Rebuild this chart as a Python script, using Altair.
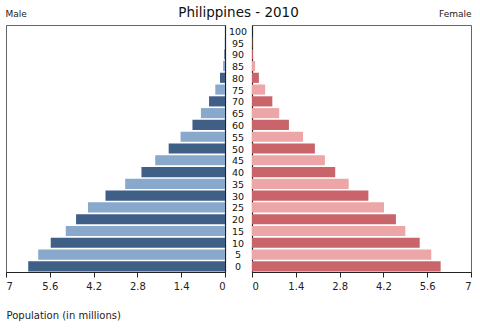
import altair as alt
import pandas as pd

ages = [0, 5, 10, 15, 20, 25, 30, 35, 40, 45, 50, 55, 60, 65, 70, 75, 80, 85, 90, 95, 100]
male = [6.29, 5.97, 5.57, 5.09, 4.76, 4.38, 3.82, 3.19, 2.67, 2.23, 1.80, 1.42, 1.04, 0.77, 0.51, 0.31, 0.16, 0.06, 0.02, 0.005, 0.0]
female = [6.03, 5.73, 5.36, 4.90, 4.60, 4.22, 3.72, 3.09, 2.66, 2.33, 2.01, 1.63, 1.18, 0.87, 0.65, 0.42, 0.22, 0.10, 0.03, 0.008, 0.0]
ticks = [0, 1.4, 2.8, 4.2, 5.6, 7]

df = pd.DataFrame({"age": ages, "male": male, "female": female})
df["label"] = df["age"].astype(str)

FONT = "DejaVu Sans"
H = 247
W = 219
yscale = alt.Scale(paddingInner=0.14, paddingOuter=0.05)
ysort = "descending"
even = "datum.age % 10 == 0"
lab = "'' + datum.value"

base = alt.Chart(df)

left = base.mark_bar().encode(
    y=alt.Y("age:O", sort=ysort, scale=yscale,
            axis=alt.Axis(orient="right", labels=False, ticks=False, title=None,
                          domainColor="#222", domainWidth=1.2, grid=False)),
    x=alt.X("male:Q", scale=alt.Scale(domain=[0, 7], reverse=True, nice=False),
            axis=alt.Axis(values=ticks, labelExpr=lab, grid=False,
                          title="Population (in millions)", titleX=0, titleY=38,
                          titleAlign="left", titleAnchor="start",
                          titleFontWeight="normal", titleFontSize=10, titleFont=FONT,
                          titleColor="#222", titleBaseline="top",
                          labelFontSize=10, labelFont=FONT, labelColor="#222",
                          tickSize=5, tickColor="#222", domainColor="#222",
                          labelPadding=4)),
    color=alt.condition(even, alt.value("#3f5f86"), alt.value("#88a8cc")),
).properties(
    width=W, height=H,
    title=alt.Title("Male", anchor="start", fontSize=9, fontWeight="normal",
                    font=FONT, color="#222", offset=6),
)

center = base.mark_text(fontSize=9.5, font=FONT, color="#111", align="center",
                        baseline="middle", dy=1).encode(
    y=alt.Y("age:O", sort=ysort, scale=yscale, axis=None),
    x=alt.value(13),
    text="label:N",
).properties(
    width=27, height=H,
    view=alt.ViewBackground(stroke="transparent", strokeOpacity=0),
    title=alt.Title("Philippines - 2010", anchor="middle", fontSize=13.5,
                    fontWeight="normal", font=FONT, color="#111", offset=6),
)

right = base.mark_bar().encode(
    y=alt.Y("age:O", sort=ysort, scale=yscale,
            axis=alt.Axis(orient="left", labels=False, ticks=False, title=None,
                          domainColor="#222", domainWidth=1.2, grid=False)),
    x=alt.X("female:Q", scale=alt.Scale(domain=[0, 7], nice=False),
            axis=alt.Axis(values=ticks, labelExpr=lab, grid=False, title=None,
                          labelFontSize=10, labelFont=FONT, labelColor="#222",
                          tickSize=5, tickColor="#222", domainColor="#222",
                          labelPadding=4)),
    color=alt.condition(even, alt.value("#c8646a"), alt.value("#eca6a8")),
).properties(
    width=W, height=H,
    title=alt.Title("Female", anchor="end", fontSize=9, fontWeight="normal",
                    font=FONT, color="#222", offset=6),
)

chart = alt.hconcat(left, center, right, spacing=0, bounds="flush").properties(
    padding={"left": 5, "top": 5, "right": 1, "bottom": 2},
    background="white",
).configure_view(
    stroke="#666", strokeWidth=1
).configure_concat(spacing=0)

chart.save("out.html", embed_options={"renderer": "svg", "actions": False})
